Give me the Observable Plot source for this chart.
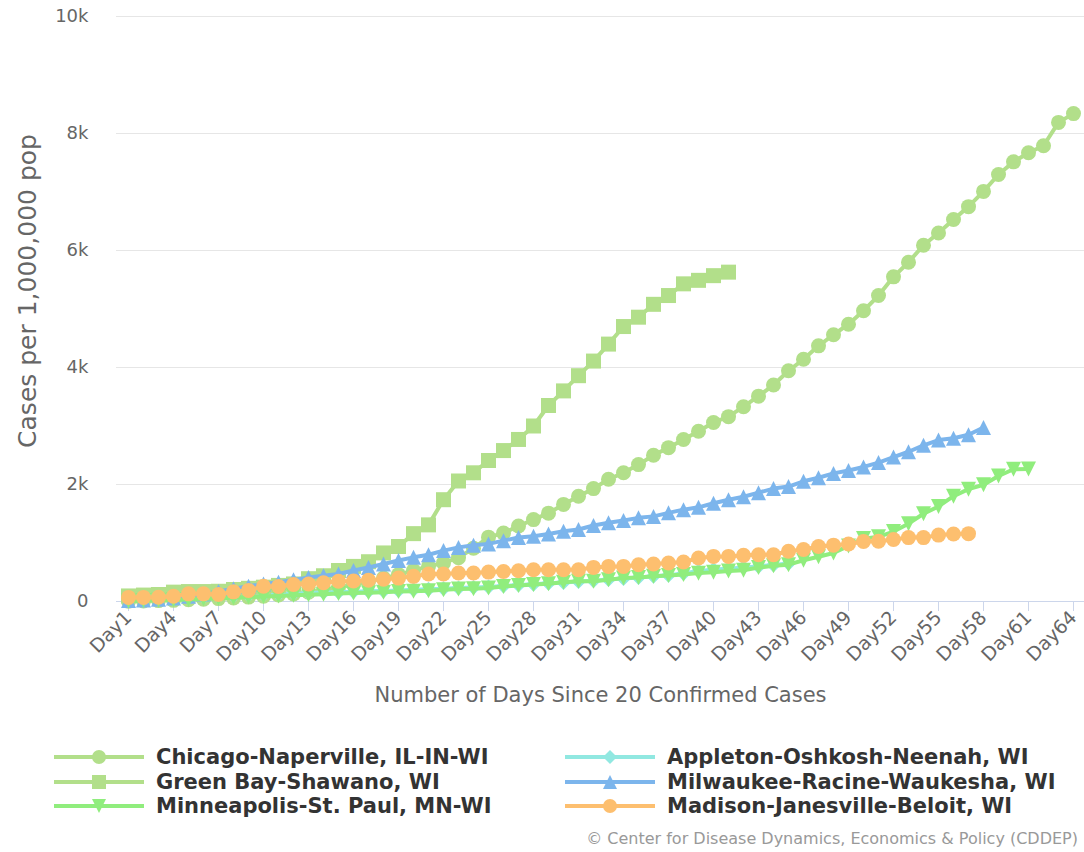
<!DOCTYPE html>
<html><head><meta charset="utf-8">
<script src="https://cdn.jsdelivr.net/npm/d3@7"></script>
<script src="https://cdn.jsdelivr.net/npm/@observablehq/plot@0.6"></script>
<style>
body{margin:0;background:#fff;font-family:"DejaVu Sans",sans-serif;}
#wrap{position:relative;width:1084px;height:852px;overflow:hidden;background:#fff}
.item{position:absolute;display:flex;align-items:center;height:24px;font-weight:bold;font-size:21px;color:#333;white-space:nowrap}
.item svg{margin-right:12px;flex:none}
#caption{position:absolute;right:6px;top:829px;font-size:16px;color:#999;white-space:nowrap}
</style></head><body>
<div id="wrap"><div id="chart"></div><div id="legend"></div><div id="caption">© Center for Disease Dynamics, Economics &amp; Policy (CDDEP)</div></div>
<script>
const days = ["Day1","Day2","Day3","Day4","Day5","Day6","Day7","Day8","Day9","Day10","Day11","Day12","Day13","Day14","Day15","Day16","Day17","Day18","Day19","Day20","Day21","Day22","Day23","Day24","Day25","Day26","Day27","Day28","Day29","Day30","Day31","Day32","Day33","Day34","Day35","Day36","Day37","Day38","Day39","Day40","Day41","Day42","Day43","Day44","Day45","Day46","Day47","Day48","Day49","Day50","Day51","Day52","Day53","Day54","Day55","Day56","Day57","Day58","Day59","Day60","Day61","Day62","Day63","Day64"];
const yTicks = [0, 2000, 4000, 6000, 8000, 10000];

const chicago = [5,10,15,20,30,40,50,60,75,90, 110,130,160,200,240,290,340,400,460,530, 600,660,750,910,1100,1170,1290,1400,1510,1660, 1800,1930,2090,2200,2340,2500,2630,2770,2910,3060, 3160,3330,3510,3700,3945,4140,4370,4560,4740,4970, 5230,5550,5800,6090,6300,6530,6750,7010,7300,7515, 7670,7790,8190,8340];
const appleton = [50,55,60,65,70,75,85,95,105,115, 125,135,145,155,160,165,175,180,190,200, 210,220,230,240,250,265,280,295,310,325, 340,355,375,395,410,430,450,480,520,545, 560,580,600,625,650];
const greenBay = [95,110,120,160,170,170,175,205,225,245, 275,300,390,440,530,600,680,830,940,1160, 1310,1740,2060,2200,2410,2580,2770,3000,3350,3600, 3860,4110,4400,4700,4860,5080,5230,5430,5490,5570, 5630];
const milwaukee = [15,25,40,60,90,130,170,220,260,300, 330,370,410,440,470,530,580,640,700,755, 800,870,925,960,985,1040,1095,1115,1155,1200, 1230,1300,1345,1385,1430,1455,1515,1570,1610,1680, 1740,1790,1860,1930,1965,2055,2115,2190,2240,2300, 2375,2470,2560,2670,2760,2790,2850,2975];
const minneapolis = [10,15,20,28,35,45,55,65,75,85, 95,105,115,125,135,145,150,160,170,175, 185,200,215,220,230,255,275,290,305,330, 345,345,370,400,410,430,445,460,485,500, 520,535,580,610,630,705,765,830,950,1075, 1105,1195,1330,1500,1625,1800,1920,1995,2145,2260, 2265];
const madison = [70,70,72,90,131,131,120,165,190,260, 256,290,300,320,345,350,365,380,400,430, 469,469,486,486,503,514,526,543,543,543, 543,583,600,600,628,640,657,674,743,771, 771,789,798,798,859,890,939,963,982,1025, 1031,1061,1092,1092,1135,1153,1160];

const seriesNames = ["Chicago-Naperville, IL-IN-WI","Appleton-Oshkosh-Neenah, WI","Green Bay-Shawano, WI","Milwaukee-Racine-Waukesha, WI","Minneapolis-St. Paul, MN-WI","Madison-Janesville-Beloit, WI"];
const seriesValues = [chicago, appleton, greenBay, milwaukee, minneapolis, madison];
const seriesColors = ["#b2df8a","#91e8e1","#b2df8a","#7cb5ec","#90ed7d","#fdbf6f"];
const seriesSymbols = ["circle","diamond","square","triangle","triangleDown","circle"];
const legendOrder = [0,1,2,3,4,5];

const xTitle = "Number of Days Since 20 Confirmed Cases";
const yTitle = "Cases per 1,000,000 pop";

function rad(size){ return Math.sqrt(size/Math.PI); }
const symbolDefs = {
  circle: {draw(c,s){const r=rad(s); c.moveTo(r,0); c.arc(0,0,r,0,2*Math.PI);}},
  square: {draw(c,s){const r=rad(s); c.rect(-r,-r,2*r,2*r);}},
  triangle: {draw(c,s){const r=rad(s); c.moveTo(0,-r); c.lineTo(r,r); c.lineTo(-r,r); c.closePath();}},
  triangleDown: {draw(c,s){const r=rad(s); c.moveTo(-r,-r); c.lineTo(r,-r); c.lineTo(0,r); c.closePath();}},
  diamond: {draw(c,s){const r=rad(s); c.moveTo(0,-r); c.lineTo(r,0); c.lineTo(0,r); c.lineTo(-r,0); c.closePath();}}
};

const marks = [
  Plot.gridY(yTicks, {stroke:"#e6e6e6", strokeOpacity:1}),
  Plot.ruleY([0], {stroke:"#ccd6eb", strokeWidth:1}),
  Plot.axisY(yTicks, {tickSize:0, tickPadding:28, fontSize:18, fill:"#666", label:null,
    tickFormat: d => d === 0 ? "0" : (d/1000) + "k"}),
  Plot.axisX(days.filter((d,i)=> i%3===0), {tickSize:10, tickPadding:3, stroke:"#ccd6eb", tickRotate:-45, fontSize:19, fill:"#666", label:null}),
  Plot.text([yTitle], {frameAnchor:"left", textAnchor:"middle", rotate:-90, dx:-89, dy:-18, fontSize:25, fill:"#666"}),
  Plot.text([xTitle], {frameAnchor:"bottom", dy:100, fontSize:21, fill:"#666"})
];

seriesValues.forEach((vals, k) => {
  const data = vals.map((v,i) => ({day: days[i], value: v}));
  marks.push(Plot.line(data, {x:"day", y:"value", stroke: seriesColors[k], strokeWidth:4, strokeLinejoin:"round", strokeLinecap:"round"}));
  marks.push(Plot.dot(data, {x:"day", y:"value", r:7.5, fill: seriesColors[k], symbol: symbolDefs[seriesSymbols[k]]}));
});

const chart = Plot.plot({
  width:1084, height:720,
  marginLeft:116, marginRight:0, marginTop:16, marginBottom:119,
  style:{fontFamily:"DejaVu Sans", background:"white", overflow:"visible"},
  x:{type:"point", domain: days, padding:0.5, axis:null},
  y:{domain:[0,10000], axis:null},
  marks
});
document.getElementById("chart").appendChild(chart);

const legend = document.getElementById("legend");
const colX = [54, 565];
legendOrder.forEach((k, idx) => {
  const col = idx % 2, row = Math.floor(idx/2);
  const div = document.createElement("div");
  div.className = "item";
  div.style.left = colX[col] + "px";
  div.style.top = (745 + row*24.5) + "px";
  const ns = "http://www.w3.org/2000/svg";
  const svg = document.createElementNS(ns, "svg");
  svg.setAttribute("width", 90); svg.setAttribute("height", 24);
  const ln = document.createElementNS(ns, "line");
  ln.setAttribute("x1",0); ln.setAttribute("x2",90); ln.setAttribute("y1",12); ln.setAttribute("y2",12);
  ln.setAttribute("stroke", seriesColors[k]); ln.setAttribute("stroke-width", 4);
  svg.appendChild(ln);
  const path = d3.path();
  symbolDefs[seriesSymbols[k]].draw(path, Math.PI*7*7);
  const p = document.createElementNS(ns, "path");
  p.setAttribute("d", path.toString());
  p.setAttribute("transform", "translate(45,12)");
  p.setAttribute("fill", seriesColors[k]);
  svg.appendChild(p);
  div.appendChild(svg);
  const span = document.createElement("span");
  span.textContent = seriesNames[k];
  div.appendChild(span);
  legend.appendChild(div);
});
</script></body></html>
